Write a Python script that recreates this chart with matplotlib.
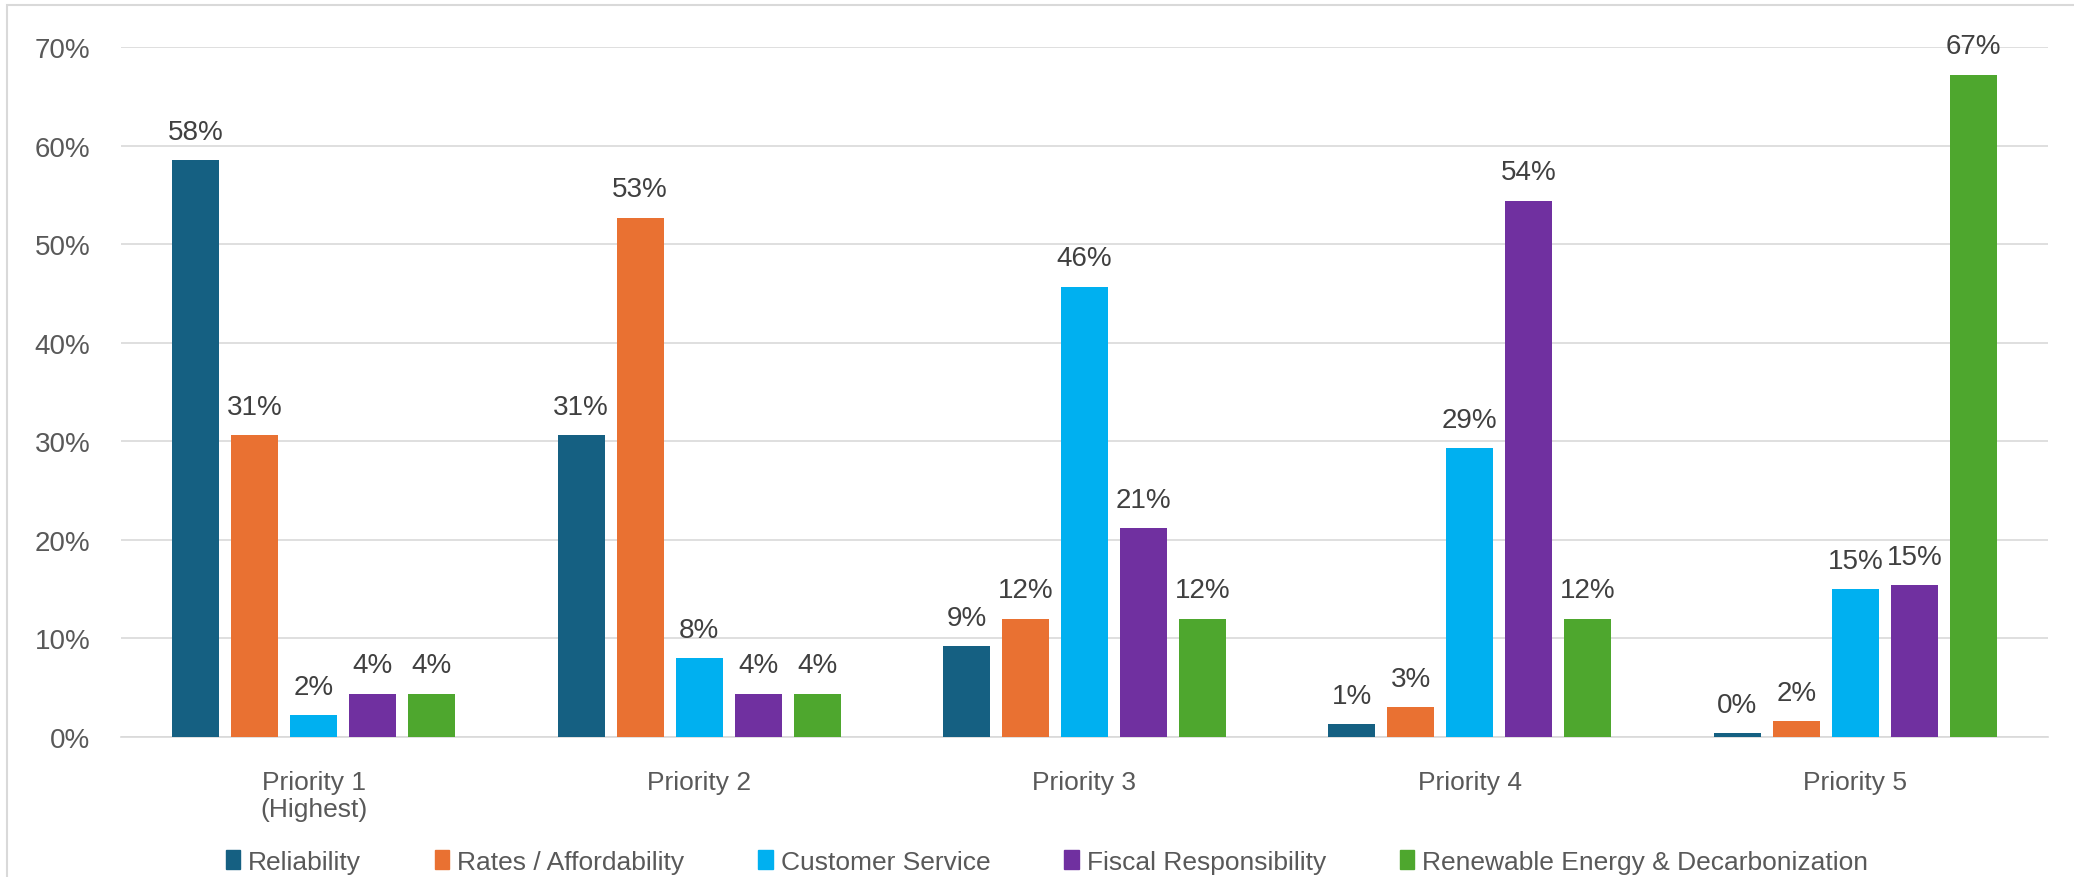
import matplotlib
matplotlib.use("Agg")
import matplotlib.pyplot as plt
import numpy as np
from matplotlib import font_manager
from matplotlib.patches import Rectangle

# data (percent of respondents)
categories = ["Priority 1\n(Highest)", "Priority 2", "Priority 3", "Priority 4", "Priority 5"]
series = ["Reliability", "Rates / Affordability", "Customer Service",
          "Fiscal Responsibility", "Renewable Energy & Decarbonization"]
reliability = [58.5, 30.6, 9.2, 1.3, 0.4]
rates = [30.6, 52.7, 12.0, 3.0, 1.6]
customer = [2.2, 8.0, 45.7, 29.3, 15.0]
fiscal = [4.4, 4.4, 21.2, 54.4, 15.4]
renewable = [4.4, 4.4, 12.0, 12.0, 67.2]
yticks = [0, 10, 20, 30, 40, 50, 60, 70]

colors = ["#156082", "#E97132", "#00B0F0", "#7030A0", "#4EA72E"]

names = {f.name for f in font_manager.fontManager.ttflist}
narrow = "Liberation Sans Narrow" if "Liberation Sans Narrow" in names else "Liberation Sans"
main = "Liberation Sans"
txt = "#595959"

fig = plt.figure(figsize=(20.74, 8.78), dpi=100)
ax = fig.add_axes([121/2074, 1-738/878, (2048-121)/2074, (738-48)/878])

x = np.arange(len(categories))
pitch = 0.153
width = 0.122
values = [reliability, rates, customer, fiscal, renewable]
for i, (name, vals) in enumerate(zip(series, values)):
    pos = x + (i - 2) * pitch
    bars = ax.bar(pos, vals, width, color=colors[i], label=name, zorder=3)
    for b, v in zip(bars, vals):
        ax.annotate(f"{v:.0f}%", (b.get_x() + b.get_width()/2, v),
                    xytext=(0, 11), textcoords="offset points",
                    ha="center", va="bottom", fontsize=20, color="#404040",
                    family=main)

ax.set_xlim(-0.5, len(categories) - 0.5)
ax.set_ylim(0, 70)
ax.set_yticks(yticks)
ax.set_yticklabels([f"{t}%" for t in yticks], fontsize=20, color=txt, family=main)
ax.set_xticks(x)
ax.set_xticklabels(categories, fontsize=19, color=txt, family=narrow, linespacing=1.15)
ax.tick_params(axis="y", length=0, pad=22)
ax.tick_params(axis="x", length=0, pad=24)
ax.grid(axis="y", color="#D9D9D9", linewidth=1.2, zorder=0)
for s in ["top", "right", "left"]:
    ax.spines[s].set_visible(False)
ax.spines["bottom"].set_color("#D9D9D9")
ax.spines["bottom"].set_linewidth(1.2)

handles = [Rectangle((0, 0), 1, 1, color=c) for c in colors]
fig.legend(handles, series, loc="center", bbox_to_anchor=(1047/2074, 1-863/878),
           ncol=5, frameon=False, handlelength=0.55, handleheight=0.75,
           handletextpad=0.3, columnspacing=2.8,
           prop={"family": narrow, "size": 19}, labelcolor=txt)

# outer border of the chart area
fig.patches.append(Rectangle((7/2074, -0.05), 1.1, 1-6/878+0.05, transform=fig.transFigure,
                             fill=False, edgecolor="#D9D9D9", linewidth=1.5))

fig.savefig("out.png", dpi=100)
